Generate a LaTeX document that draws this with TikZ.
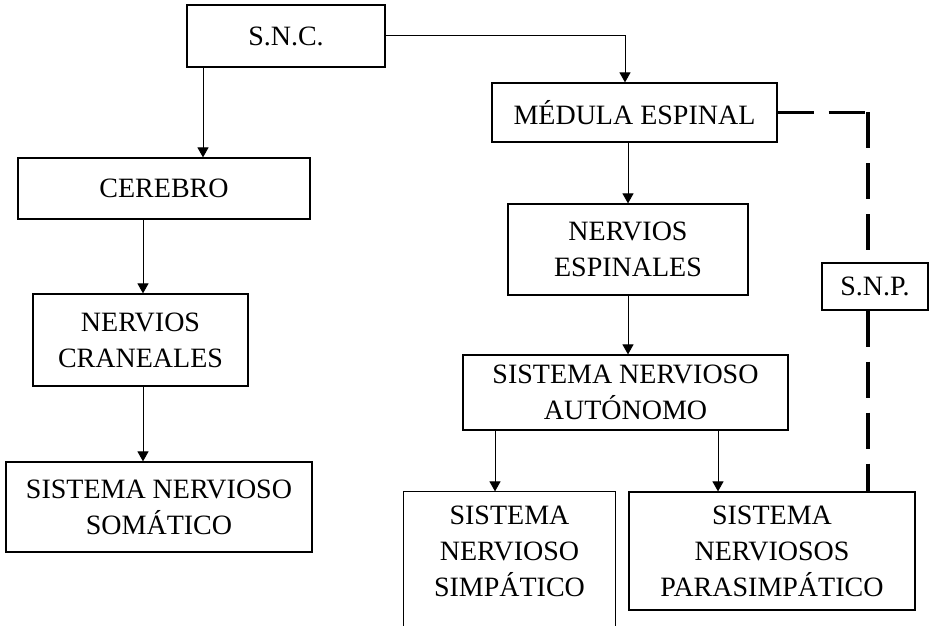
\documentclass[tikz,border=0pt]{standalone}
\usepackage{fontspec}
\setmainfont{Liberation Serif}
\usetikzlibrary{positioning, arrows.meta}

\begin{document}
\begin{tikzpicture}[x=0.5pt, y=-0.5pt,
  caja/.style={draw, line width=0.6pt, align=center, inner sep=0pt,
    font=\fontsize{14}{18}\selectfont},
  flecha/.style={line width=0.5pt, -{Triangle[width=5.5pt,length=5pt]}},
  trazo/.style={line width=1.6pt, dash pattern=on 18pt off 7.5pt}]
\useasboundingbox (0,0) rectangle (933,626);
\clip (0,0) rectangle (933,626);

% columnas de las flechas
\coordinate (c1) at (203,0);
\coordinate (c2) at (143,0);
\coordinate (c3) at (625,0);
\coordinate (c4) at (628,0);
\coordinate (c5) at (495,0);
\coordinate (c6) at (718,0);
\coordinate (c7) at (868,0);

\node[caja, minimum width=99pt, minimum height=31pt] (snc) at (286,36) {S.N.C.};
\node[caja, minimum width=142.5pt, minimum height=29.5pt] (medula) at (634.5,112.5) {MÉDULA ESPINAL};
\node[caja, minimum width=146pt, minimum height=30.5pt] (cerebro) at (164,188.5) {CEREBRO};
\node[caja, minimum width=107.5pt, minimum height=46pt] (craneales) at (140.5,340) {NERVIOS\\CRANEALES};
\node[caja, minimum width=153pt, minimum height=45pt] (somatico) at (159,507) {SISTEMA NERVIOSO\\SOMÁTICO};
\node[caja, minimum width=120pt, minimum height=45.5pt] (espinales) at (628,249.5) {NERVIOS\\ESPINALES};
\node[caja, minimum width=162.5pt, minimum height=37.5pt] (autonomo) at (625.5,392.5) {SISTEMA NERVIOSO\\AUTÓNOMO};
\node[caja, minimum width=53pt, minimum height=23.5pt] (snp) at (875,286.5) {S.N.P.};
\node[caja, draw=none, minimum width=105.5pt, minimum height=59pt] (simpatico) at (509.5,551) {SISTEMA\\NERVIOSO\\SIMPÁTICO};
\node[caja, minimum width=143pt, minimum height=59pt] (parasimpatico) at (772,551) {SISTEMA\\NERVIOSOS\\PARASIMPÁTICO};

% caja abierta por abajo
\draw[line width=0.6pt] ([yshift=-60pt]simpatico.south west) -- (simpatico.north west)
  -- (simpatico.north east) -- ([yshift=-60pt]simpatico.south east);

\draw[flecha] (snc.south -| c1) -- (cerebro.north -| c1);
\draw[flecha] (cerebro.south -| c2) -- (craneales.north -| c2);
\draw[flecha] (craneales.south -| c2) -- (somatico.north -| c2);
\draw[flecha] (snc.east) -| (medula.north -| c3);
\draw[flecha] (medula.south -| c4) -- (espinales.north -| c4);
\draw[flecha] (espinales.south -| c4) -- (autonomo.north -| c4);
\draw[flecha] (autonomo.south -| c5) -- (simpatico.north -| c5);
\draw[flecha] (autonomo.south -| c6) -- (parasimpatico.north -| c6);

\draw[trazo] (medula.east) -- (medula.east -| c7);
\draw[trazo] (medula.east -| c7) -- (snp.north -| c7);
\draw[trazo] (snp.south -| c7) -- (parasimpatico.north -| c7);
\end{tikzpicture}
\end{document}
